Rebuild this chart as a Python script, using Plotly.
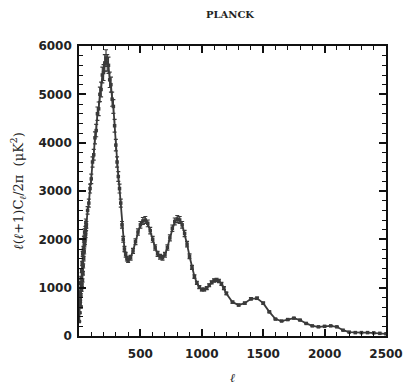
import plotly.graph_objects as go

# multipole l and band power l(l+1)C_l/2pi in uK^2
ell = [2, 4, 6, 8, 10, 12, 14, 16, 18, 20, 22, 24, 26, 28, 30, 32, 34, 36, 38, 40,
       42, 44, 46, 48, 50, 52, 54, 56, 58,
       60, 70, 80, 90, 100, 110, 120, 130, 140, 150, 160, 170, 180, 190, 200, 210,
       220, 230, 240, 250, 260, 270, 280, 290, 300, 310, 320, 330, 340, 350, 360,
       370, 380, 390, 400,
       420, 440, 460, 480, 500, 520, 540, 560, 580, 600, 620, 640, 660, 680, 700,
       720, 740, 760, 780, 800, 820, 840, 860, 880, 900, 920, 940, 960, 980, 1000,
       1020, 1040, 1060, 1080, 1100, 1120, 1140, 1160, 1180, 1200,
       1250, 1300, 1350, 1400, 1450, 1500, 1550, 1600, 1650, 1700, 1750, 1800,
       1850, 1900, 1950, 2000, 2050, 2100, 2150, 2200, 2250, 2300, 2350, 2400,
       2450, 2500]
power = [300, 650, 480, 900, 720, 1100, 850, 600, 1200, 950, 1350, 1050, 1500, 1150,
         1700, 1300, 1450, 1800, 1600, 2000, 1750, 1900, 2150, 1950, 2050, 2200, 2100,
         2350, 2250,
         2300, 2600, 2750, 3050, 3250, 3600, 3750, 4100, 4250, 4600, 4700, 5000, 5100,
         5400, 5450, 5650, 5750, 5650, 5600, 5300, 5200, 4900, 4750, 4350, 3950, 3600,
         3300, 3050, 2750, 2300, 2000, 1800, 1680, 1600, 1570,
         1620, 1760, 1950, 2150, 2300, 2380, 2400, 2330, 2180, 2000, 1830, 1700, 1640,
         1620, 1680, 1830, 2030, 2230, 2370, 2420, 2400, 2300, 2120, 1900, 1650, 1420,
         1230, 1100, 1010, 960, 960, 990, 1050, 1110, 1150, 1160, 1140, 1080, 990, 880,
         700, 640, 680, 770, 780, 680, 500, 350, 310, 340, 370, 330,
         260, 210, 190, 200, 210, 190, 120, 80, 70, 70, 70, 65,
         55, 45]

ink = "#3a3a3a"
tick_font = dict(family="DejaVu Sans", size=12, color="#222", weight="bold")

fig = go.Figure()
fig.add_trace(go.Scatter(
    x=ell, y=power, mode="lines+markers",
    line=dict(color=ink, width=1.8),
    marker=dict(symbol="square", size=3.5, color=ink),
    error_y=dict(type="percent", value=3, color=ink, thickness=1.2, width=2),
    showlegend=False,
))

axis_common = dict(
    showgrid=False, zeroline=False, showline=True, linecolor="#111", linewidth=1.6,
    mirror="ticks", ticks="inside", ticklen=7, tickwidth=1.5, tickcolor="#111",
    tickfont=tick_font, automargin=False,
)

fig.update_layout(
    width=404, height=385,
    margin=dict(l=79, r=18, t=46, b=49),
    paper_bgcolor="white", plot_bgcolor="white",
    title=dict(text="PLANCK", x=230 / 404, xanchor="center", y=1 - 14 / 385,
               yanchor="middle",
               font=dict(family="DejaVu Serif", size=10, color="#222", weight="bold")),
    xaxis=dict(range=[0, 2500], tickmode="linear", tick0=0, dtick=500,
               labelalias={"0": " "}, ticklabelstandoff=6,
               minor=dict(tickmode="linear", tick0=0, dtick=100, ticks="inside",
                          ticklen=4, tickwidth=1.3, tickcolor="#111"),
               title=dict(text="<i>ℓ</i>", standoff=18,
                          font=dict(family="DejaVu Serif", size=12, color="#222")),
               **axis_common),
    yaxis=dict(range=[0, 6000], tickmode="linear", tick0=0, dtick=1000,
               ticklabelstandoff=3,
               minor=dict(tickmode="linear", tick0=0, dtick=200, ticks="inside",
                          ticklen=4, tickwidth=1.3, tickcolor="#111"),
               title=dict(text="<i>ℓ</i>(<i>ℓ</i>+1)C<sub><i>ℓ</i></sub>/2π  (μK<sup>2</sup>)",
                          standoff=12,
                          font=dict(family="DejaVu Serif", size=13, color="#222")),
               **axis_common),
)

fig.write_html("out.html")
